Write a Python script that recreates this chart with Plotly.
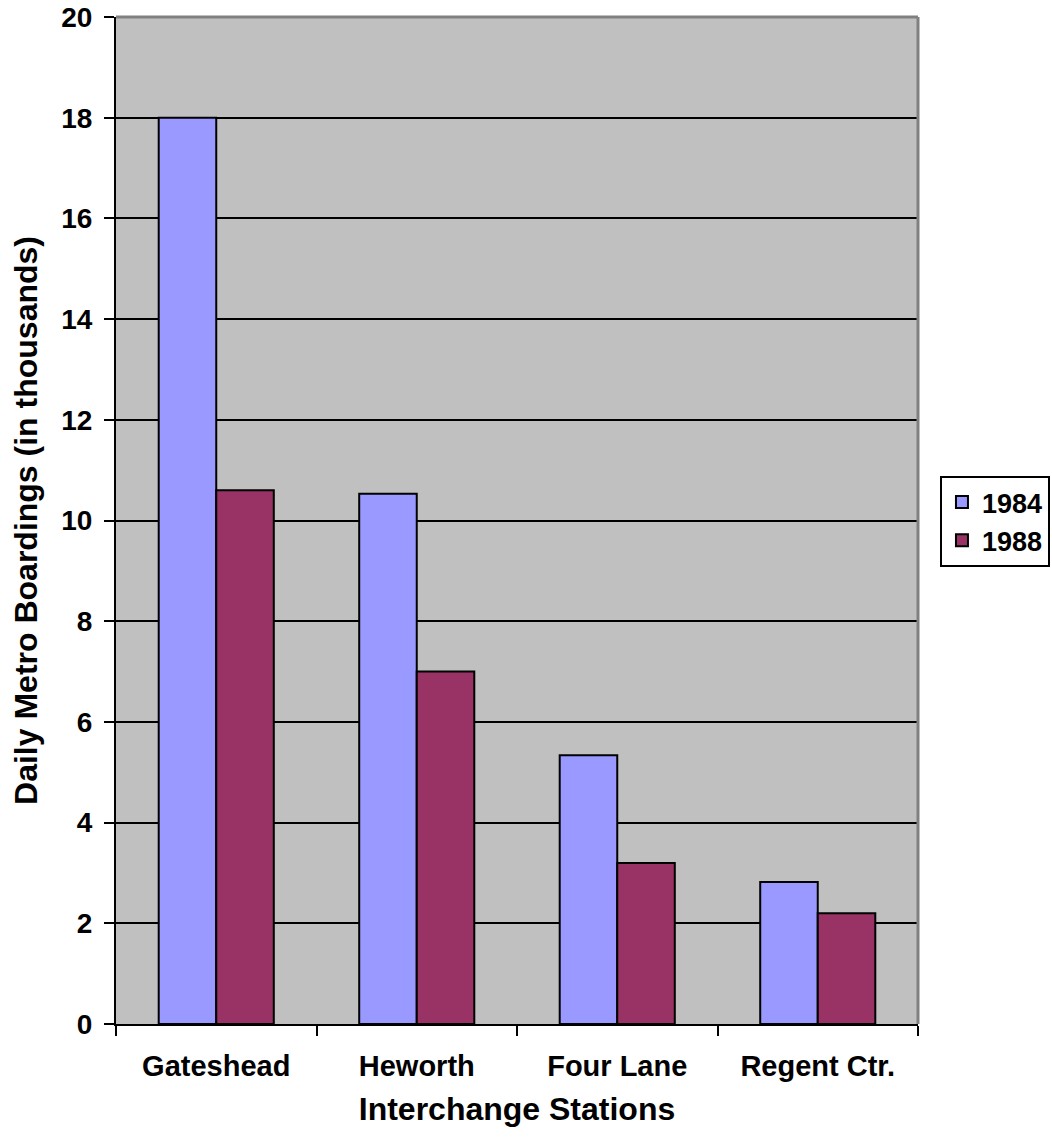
import plotly.graph_objects as go

stations = ["Gateshead", "Heworth", "Four Lane", "Regent Ctr."]
boardings_1984 = [18.0, 10.53, 5.34, 2.82]
boardings_1988 = [10.6, 7.0, 3.2, 2.2]
y_ticks = [0, 2, 4, 6, 8, 10, 12, 14, 16, 18, 20]

FONT = "Liberation Sans, Arial, sans-serif"

fig = go.Figure()
fig.add_trace(go.Bar(name="<b>1984</b>", x=stations, y=boardings_1984,
                     marker=dict(color="#9999FF", line=dict(color="black", width=2))))
fig.add_trace(go.Bar(name="<b>1988</b>", x=stations, y=boardings_1988,
                     marker=dict(color="#993366", line=dict(color="black", width=2))))

fig.update_layout(
    width=1052, height=1142, autosize=False,
    margin=dict(l=116, r=134, t=17, b=118),
    paper_bgcolor="white", plot_bgcolor="#C0C0C0",
    barmode="group", bargap=0.426, bargroupgap=0,
    font=dict(family=FONT, color="black"),
    showlegend=True,
    legend=dict(xref="container", yref="container", x=0.8935, y=0.5433,
                xanchor="left", yanchor="middle",
                bordercolor="black", borderwidth=2, bgcolor="white",
                font=dict(size=27, family=FONT, color="black"),
                itemwidth=30, tracegroupgap=10),
)
fig.update_xaxes(
    type="category", tickson="boundaries", ticks="outside", ticklen=10,
    tickwidth=2, tickcolor="black", showline=True, linecolor="black", linewidth=2,
    tickfont=dict(size=29, family=FONT, color="black"), ticklabelstandoff=15,
    ticktext=[f"<b>{s}</b>" for s in stations], tickvals=stations,
    title=dict(text="<b>Interchange Stations</b>", font=dict(size=32, family=FONT, color="black"),
               standoff=17),
    showgrid=False, automargin=False,
)
fig.update_yaxes(
    range=[0, 20], tickvals=y_ticks, ticktext=[f"<b>{v}</b>" for v in y_ticks],
    ticks="outside", ticklen=10, tickwidth=2, tickcolor="black", ticklabelstandoff=6,
    showline=True, linecolor="black", linewidth=2,
    showgrid=True, gridcolor="black", gridwidth=2, zeroline=False,
    tickfont=dict(size=28, family=FONT, color="black"),
    title=dict(text="<b>Daily Metro Boardings (in thousands)</b>",
               font=dict(size=32, family=FONT, color="black"), standoff=14),
    automargin=False,
)
# grey top and right border of the plot area
fig.add_shape(type="line", xref="paper", yref="paper", x0=0, x1=1, y0=1, y1=1,
              line=dict(color="#808080", width=3), layer="above")
fig.add_shape(type="line", xref="paper", yref="paper", x0=1, x1=1, y0=0, y1=1,
              line=dict(color="#808080", width=3), layer="above")

fig.write_html(
    "out.html",
    config={"responsive": False, "displayModeBar": False},
    post_script="document.body.style.margin='0';document.body.style.overflow='hidden';",
)
